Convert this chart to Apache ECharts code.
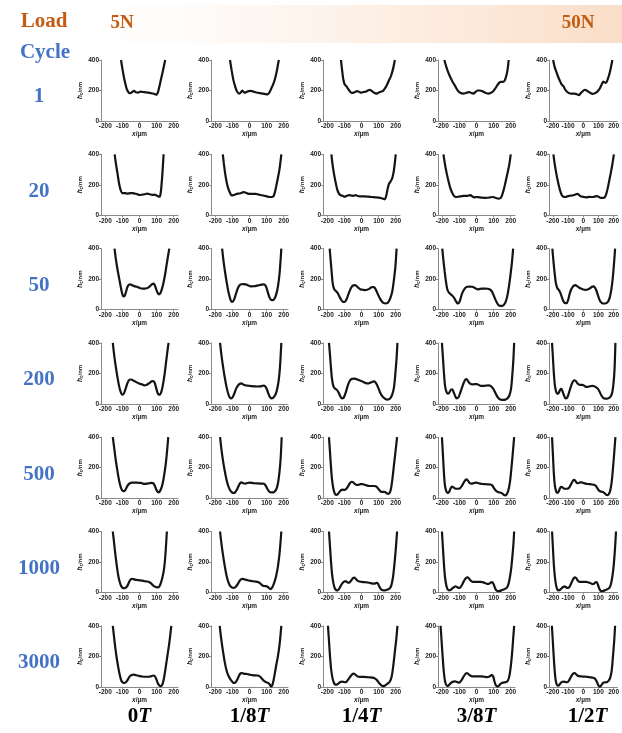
<!DOCTYPE html>
<html>
<head>
<meta charset="utf-8">
<script src="https://cdn.jsdelivr.net/npm/echarts@6/dist/echarts.min.js"></script>
<style>
html,body{margin:0;padding:0;background:#fff}
#chart{width:622px;height:733px}
</style>
</head>
<body>
<div id="chart"></div>
<script>
// Row / column headings
const cycleLabels = ['1', '20', '50', '200', '500', '1000', '3000'];
const phaseLabels = ['0', '1/8', '1/4', '3/8', '1/2'];
const loadLabels = ['5N', '50N'];
const xTickValues = [-200, -100, 0, 100, 200];
const yTickValues = [0, 200, 400];

// Wear-scar depth profiles [x (µm), h_c (nm)], one list per phase (0T .. 1/2T)
const profilesCycle1 = [
  [[-108,400],[-98,330],[-88,270],[-76,215],[-67,193],[-57,182],[-45,188],[-33,197],[-20,188],[-8,186],[5,192],[20,190],[35,188],[50,186],[65,183],[80,180],[92,175],[100,172],[108,190],[116,225],[125,270],[135,320],[150,400]],
  [[-114,400],[-104,330],[-94,268],[-82,220],[-72,192],[-60,180],[-50,188],[-43,200],[-35,192],[-28,185],[-18,190],[-5,196],[8,198],[25,192],[40,187],[60,183],[80,180],[95,176],[106,175],[118,190],[127,212],[140,245],[150,280],[160,330],[168,380],[172,400]],
  [[-120,400],[-112,320],[-106,270],[-98,240],[-88,228],[-78,210],[-66,192],[-55,184],[-45,186],[-35,192],[-24,196],[-12,190],[-2,186],[12,190],[27,194],[40,202],[48,205],[58,198],[70,188],[82,181],[90,180],[100,186],[112,192],[126,198],[138,215],[150,240],[162,270],[174,300],[186,350],[195,400]],
  [[-188,400],[-175,350],[-163,312],[-150,280],[-140,258],[-128,235],[-118,215],[-106,195],[-92,183],[-78,180],[-65,182],[-52,188],[-42,189],[-30,184],[-18,180],[-6,190],[8,200],[20,200],[32,196],[45,188],[58,182],[70,180],[82,183],[95,192],[108,210],[120,232],[132,250],[142,257],[155,257],[165,265],[175,300],[182,340],[188,400]],
  [[-198,400],[-188,355],[-176,320],[-165,290],[-153,262],[-142,240],[-130,228],[-118,205],[-105,190],[-92,182],[-78,180],[-62,180],[-48,178],[-35,172],[-28,170],[-20,178],[-10,188],[2,200],[12,205],[22,200],[35,192],[48,184],[60,178],[72,180],[85,186],[98,198],[110,215],[122,240],[132,258],[142,252],[150,250],[160,270],[170,300],[180,340],[192,400]]
];
const profilesCycle20 = [
  [[-145,400],[-138,340],[-128,270],[-118,200],[-108,158],[-98,145],[-85,146],[-70,142],[-55,145],[-40,146],[-28,142],[-15,140],[0,133],[15,135],[30,138],[45,142],[60,138],[75,134],[90,135],[100,130],[110,124],[117,122],[123,140],[128,190],[133,260],[137,330],[141,400]],
  [[-156,400],[-150,340],[-143,280],[-134,220],[-124,175],[-114,148],[-104,130],[-94,132],[-80,138],[-66,142],[-52,145],[-40,150],[-32,152],[-22,148],[-10,142],[5,140],[20,140],[35,140],[50,137],[65,133],[80,130],[95,126],[108,122],[118,120],[130,120],[140,125],[148,150],[156,190],[165,240],[175,300],[186,400]],
  [[-176,400],[-170,340],[-162,280],[-152,220],[-142,170],[-132,142],[-122,132],[-110,128],[-98,122],[-86,128],[-72,132],[-60,130],[-48,128],[-36,132],[-24,128],[-10,124],[5,124],[20,124],[40,122],[60,120],[80,118],[100,116],[118,112],[128,108],[136,105],[145,130],[152,170],[160,205],[170,222],[180,245],[190,300],[200,400]],
  [[-193,400],[-185,340],[-175,280],[-163,220],[-152,175],[-142,148],[-132,128],[-120,120],[-105,122],[-90,125],[-75,128],[-60,128],[-45,130],[-35,132],[-25,124],[-12,118],[0,120],[15,118],[30,116],[50,114],[65,115],[80,118],[95,120],[105,117],[118,112],[130,110],[142,114],[152,140],[162,180],[172,230],[182,280],[192,335],[200,400]],
  [[-196,400],[-188,340],[-178,280],[-166,220],[-154,170],[-142,135],[-130,122],[-116,120],[-100,126],[-86,128],[-72,130],[-60,133],[-48,138],[-38,140],[-28,134],[-16,124],[-4,122],[8,120],[22,118],[38,121],[52,120],[66,120],[80,124],[92,126],[104,120],[116,114],[130,114],[142,118],[152,140],[162,180],[172,230],[182,280],[192,335],[202,400]]
];
const profilesCycle50 = [
  [[-146,400],[-138,330],[-128,260],[-118,200],[-108,140],[-100,100],[-93,86],[-86,92],[-78,120],[-70,150],[-62,163],[-55,166],[-46,162],[-36,156],[-26,152],[-15,150],[-5,145],[5,140],[18,138],[30,138],[42,140],[55,148],[65,158],[75,168],[82,170],[90,158],[98,132],[106,110],[113,100],[120,104],[128,125],[138,165],[148,220],[158,290],[168,360],[174,400]],
  [[-160,400],[-152,320],[-142,240],[-132,170],[-122,110],[-112,68],[-104,50],[-96,54],[-88,72],[-78,108],[-68,140],[-58,160],[-48,166],[-35,167],[-22,165],[-10,160],[0,155],[12,152],[25,153],[40,156],[55,160],[70,164],[82,166],[92,160],[100,140],[108,110],[116,82],[124,66],[132,62],[140,64],[148,76],[156,100],[166,150],[176,240],[186,400]],
  [[-186,400],[-180,320],[-174,240],[-168,170],[-160,135],[-150,122],[-140,110],[-130,88],[-120,66],[-110,52],[-100,50],[-90,62],[-80,90],[-70,120],[-60,145],[-50,158],[-40,160],[-30,155],[-18,142],[-5,132],[8,130],[20,128],[32,130],[45,136],[58,146],[70,148],[78,142],[88,120],[98,95],[108,72],[118,55],[128,44],[140,40],[150,42],[160,55],[170,80],[180,120],[190,200],[198,280],[205,400]],
  [[-200,400],[-194,330],[-186,250],[-178,180],[-170,130],[-160,110],[-150,100],[-140,90],[-130,75],[-120,55],[-110,40],[-102,45],[-95,65],[-86,100],[-76,125],[-66,142],[-54,150],[-40,151],[-26,150],[-14,145],[-4,138],[8,132],[20,136],[35,138],[50,138],[65,137],[78,132],[88,122],[98,100],[108,72],[118,48],[128,30],[140,24],[152,25],[162,34],[172,55],[182,100],[192,170],[200,240],[208,320],[214,400]],
  [[-203,400],[-196,320],[-188,240],[-180,175],[-170,140],[-160,128],[-150,110],[-140,80],[-130,55],[-120,42],[-110,42],[-100,60],[-90,100],[-80,130],[-70,148],[-60,158],[-50,160],[-40,154],[-28,145],[-15,138],[0,132],[15,130],[30,132],[45,140],[58,150],[68,152],[76,146],[85,130],[95,100],[105,70],[115,50],[125,42],[135,40],[145,40],[155,44],[165,55],[175,80],[185,130],[195,210],[205,330],[210,400]]
];
const profilesCycle200 = [
  [[-156,400],[-148,320],[-138,240],[-128,170],[-118,110],[-108,72],[-99,60],[-92,66],[-84,90],[-74,125],[-64,152],[-54,160],[-44,158],[-34,152],[-22,145],[-10,138],[2,132],[15,128],[28,122],[40,124],[52,132],[62,140],[72,148],[80,150],[88,140],[96,110],[104,78],[112,60],[120,62],[128,80],[136,120],[146,190],[156,280],[166,370],[170,400]],
  [[-172,400],[-164,320],[-154,240],[-144,170],[-134,110],[-124,65],[-114,40],[-106,36],[-98,45],[-88,70],[-78,100],[-66,122],[-56,132],[-48,135],[-38,128],[-26,122],[-12,120],[0,118],[15,116],[30,115],[45,114],[60,115],[75,118],[85,120],[95,110],[104,88],[112,62],[120,44],[128,36],[136,38],[144,48],[152,62],[160,90],[170,150],[178,240],[186,400]],
  [[-190,400],[-184,320],[-178,230],[-172,160],[-164,115],[-154,100],[-144,92],[-134,75],[-124,50],[-114,36],[-106,38],[-98,56],[-88,90],[-78,128],[-68,152],[-58,163],[-46,166],[-34,164],[-20,158],[-6,152],[8,146],[22,138],[36,134],[50,138],[62,144],[72,148],[80,144],[90,125],[100,100],[110,72],[120,52],[130,40],[140,32],[150,28],[160,30],[170,40],[180,62],[190,110],[198,200],[205,300],[210,400]],
  [[-202,400],[-196,300],[-190,200],[-184,120],[-176,80],[-168,68],[-160,72],[-150,92],[-142,96],[-134,78],[-124,50],[-116,36],[-106,42],[-96,70],[-84,110],[-72,145],[-62,162],[-54,158],[-44,140],[-34,130],[-22,128],[-10,130],[2,130],[14,124],[26,118],[40,118],[55,120],[70,122],[82,118],[94,105],[106,82],[118,55],[130,35],[142,28],[156,26],[168,28],[180,35],[192,55],[202,100],[210,200],[216,300],[220,400]],
  [[-205,400],[-199,300],[-193,200],[-186,120],[-178,80],[-170,66],[-162,70],[-152,92],[-144,98],[-136,82],[-126,55],[-116,36],[-106,40],[-96,65],[-84,105],[-72,138],[-60,155],[-50,152],[-40,138],[-30,128],[-18,125],[-6,125],[6,120],[18,112],[30,112],[45,116],[60,118],[72,116],[84,110],[96,100],[108,80],[120,55],[132,40],[144,35],[156,35],[168,38],[180,48],[190,70],[198,120],[206,220],[212,400]]
];
const profilesCycle500 = [
  [[-156,400],[-148,330],[-140,260],[-132,200],[-124,145],[-116,100],[-108,68],[-100,50],[-92,46],[-84,52],[-76,68],[-66,88],[-56,98],[-44,102],[-30,102],[-16,102],[-4,101],[8,100],[20,96],[32,94],[45,96],[58,98],[70,100],[80,98],[88,85],[96,62],[104,44],[110,38],[118,44],[126,62],[134,90],[144,150],[154,230],[162,320],[168,400]],
  [[-172,400],[-164,320],[-154,240],[-144,175],[-134,120],[-124,80],[-114,54],[-104,40],[-94,34],[-84,38],[-74,55],[-64,80],[-54,100],[-46,104],[-36,98],[-24,96],[-12,100],[0,102],[15,100],[30,98],[45,97],[60,96],[75,96],[85,95],[95,82],[105,60],[115,44],[125,38],[135,38],[145,42],[155,55],[165,90],[175,170],[182,260],[188,400]],
  [[-190,400],[-184,300],[-178,200],[-172,120],[-164,60],[-156,30],[-148,22],[-140,25],[-130,40],[-120,52],[-110,56],[-100,54],[-90,60],[-80,75],[-68,98],[-58,108],[-50,105],[-40,94],[-30,88],[-18,88],[-6,92],[6,92],[18,88],[30,84],[45,80],[60,80],[75,80],[88,76],[98,62],[108,48],[118,42],[128,42],[138,40],[148,32],[156,28],[164,34],[172,60],[180,120],[190,220],[200,320],[208,400]],
  [[-202,400],[-196,280],[-190,160],[-184,80],[-176,45],[-168,35],[-160,42],[-152,62],[-144,76],[-136,72],[-126,64],[-116,62],[-106,62],[-96,66],[-86,80],[-76,100],[-66,118],[-58,124],[-50,115],[-40,100],[-30,95],[-18,98],[-6,102],[6,100],[20,96],[35,93],[50,92],[65,91],[80,90],[92,84],[102,66],[112,50],[122,42],[132,38],[142,36],[152,30],[160,22],[168,18],[176,25],[186,50],[196,110],[206,220],[214,320],[220,400]],
  [[-205,400],[-199,280],[-193,160],[-186,80],[-178,45],[-170,35],[-162,42],[-154,62],[-146,75],[-138,72],[-128,64],[-118,62],[-108,62],[-98,64],[-88,76],[-78,96],[-68,114],[-60,120],[-52,114],[-42,100],[-32,98],[-22,104],[-10,104],[2,100],[15,96],[30,93],[45,92],[60,90],[72,88],[84,80],[94,64],[104,50],[114,44],[124,42],[134,38],[144,30],[152,22],[160,20],[168,26],[178,50],[188,110],[198,220],[206,320],[212,400]]
];
const profilesCycle1000 = [
  [[-156,400],[-148,320],[-140,240],[-132,170],[-124,110],[-116,70],[-108,44],[-100,32],[-92,28],[-84,30],[-76,36],[-68,50],[-60,70],[-52,85],[-44,90],[-36,88],[-26,84],[-14,82],[0,80],[15,78],[30,74],[45,72],[58,68],[68,60],[76,50],[84,42],[92,38],[100,34],[108,33],[116,40],[124,60],[132,90],[140,130],[148,200],[154,290],[160,400]],
  [[-172,400],[-164,320],[-154,240],[-144,170],[-134,110],[-124,70],[-114,45],[-104,34],[-94,30],[-84,34],[-74,46],[-64,64],[-54,82],[-44,90],[-34,88],[-22,84],[-10,80],[4,77],[18,74],[32,72],[46,70],[58,64],[68,54],[78,45],[90,42],[102,40],[110,34],[118,25],[124,22],[130,28],[138,45],[146,70],[156,110],[166,170],[176,260],[186,400]],
  [[-190,400],[-184,300],[-178,200],[-172,120],[-164,60],[-156,28],[-148,16],[-140,14],[-132,22],[-124,38],[-116,54],[-108,66],[-100,72],[-92,74],[-84,68],[-76,64],[-68,68],[-58,82],[-50,94],[-42,98],[-34,90],[-24,78],[-12,72],[0,70],[15,68],[30,66],[45,64],[60,60],[72,58],[82,60],[90,64],[96,58],[104,40],[112,24],[120,16],[130,14],[142,16],[154,20],[164,26],[174,45],[184,100],[192,180],[200,280],[208,400]],
  [[-202,400],[-196,290],[-190,180],[-184,100],[-176,45],[-168,20],[-160,14],[-150,18],[-140,28],[-130,36],[-122,40],[-114,36],[-106,30],[-98,30],[-90,40],[-80,60],[-70,82],[-60,96],[-52,100],[-44,92],[-34,78],[-22,70],[-10,70],[5,70],[20,70],[35,68],[50,62],[62,56],[74,58],[84,66],[92,68],[100,54],[108,30],[116,14],[124,9],[134,10],[146,14],[158,20],[170,25],[182,40],[192,80],[202,150],[210,240],[216,320],[220,400]],
  [[-205,400],[-199,290],[-193,180],[-186,100],[-178,45],[-170,20],[-162,14],[-152,18],[-142,28],[-132,36],[-122,40],[-114,36],[-106,30],[-98,30],[-88,40],[-78,62],[-68,84],[-60,96],[-52,100],[-44,92],[-36,78],[-24,70],[-10,70],[5,70],[20,70],[35,66],[50,60],[62,55],[72,58],[80,66],[88,68],[96,54],[104,30],[112,14],[120,9],[130,10],[142,14],[154,20],[166,25],[178,40],[188,80],[198,150],[206,240],[212,330],[216,400]]
];
const profilesCycle3000 = [
  [[-156,400],[-146,300],[-136,210],[-126,140],[-116,80],[-106,40],[-96,27],[-88,25],[-80,30],[-72,40],[-64,56],[-56,70],[-46,78],[-36,80],[-26,78],[-14,74],[0,70],[12,68],[26,66],[40,66],[54,66],[66,68],[76,72],[84,74],[92,66],[100,45],[108,22],[116,8],[124,4],[132,12],[140,40],[148,90],[156,150],[164,210],[172,270],[180,340],[186,400]],
  [[-174,400],[-166,320],[-156,240],[-146,170],[-136,115],[-126,80],[-116,58],[-106,40],[-96,28],[-88,26],[-80,32],[-72,46],[-64,66],[-56,84],[-48,90],[-38,88],[-26,85],[-14,84],[0,80],[15,76],[30,75],[45,74],[58,70],[68,60],[78,46],[88,36],[98,30],[108,26],[116,18],[122,8],[127,2],[132,8],[138,30],[146,75],[156,140],[166,200],[176,280],[186,400]],
  [[-196,400],[-190,300],[-184,200],[-178,120],[-170,60],[-162,28],[-154,15],[-146,14],[-136,20],[-126,30],[-116,34],[-106,32],[-96,30],[-86,36],[-76,50],[-66,66],[-56,80],[-46,86],[-38,82],[-28,72],[-16,66],[-2,65],[14,65],[30,64],[46,62],[62,60],[76,56],[88,46],[98,32],[108,18],[118,8],[126,5],[134,6],[144,14],[154,22],[164,32],[172,50],[180,90],[188,160],[196,240],[204,320],[210,400]],
  [[-210,400],[-204,300],[-198,200],[-192,110],[-186,50],[-180,20],[-172,6],[-164,8],[-154,20],[-144,30],[-134,34],[-124,36],[-116,32],[-106,28],[-98,30],[-88,42],[-78,62],[-68,80],[-58,90],[-50,86],[-40,76],[-30,70],[-16,68],[0,68],[15,68],[30,68],[45,66],[60,64],[72,66],[82,72],[90,78],[98,66],[104,40],[110,18],[116,6],[122,2],[128,4],[136,14],[146,24],[158,28],[170,30],[182,38],[192,70],[200,130],[208,220],[214,310],[220,400]],
  [[-206,400],[-200,300],[-194,200],[-188,110],[-182,50],[-176,20],[-168,8],[-160,10],[-150,22],[-140,32],[-130,34],[-120,32],[-112,30],[-104,30],[-94,40],[-84,58],[-74,76],[-64,88],[-56,90],[-48,84],[-38,74],[-26,70],[-12,68],[4,67],[20,66],[35,64],[50,62],[62,60],[74,56],[84,44],[92,28],[98,14],[104,4],[110,1],[118,8],[126,20],[136,28],[148,30],[158,32],[168,40],[178,60],[188,110],[196,200],[204,300],[210,400]]
];

const profileRows = [profilesCycle1, profilesCycle20, profilesCycle50, profilesCycle200,
                     profilesCycle500, profilesCycle1000, profilesCycle3000];

// Panel layout (pixels)
const colLeft = [101, 211, 323, 438, 549];
const rowTop0 = 60, rowStep = 94.3, panelW = 77, panelH = 61;

const serif = '"Times New Roman","Liberation Serif",serif';
const sans = 'Arial,"Liberation Sans",sans-serif';
const axisGrey = '#8a8a8a';
const tickFont = { fontSize: 6.5, fontWeight: 'bold', color: '#222', fontFamily: sans };

const grid = [], xAxis = [], yAxis = [], series = [];
profileRows.forEach((row, r) => {
  row.forEach((profile, c) => {
    const i = grid.length;
    grid.push({ left: colLeft[c], top: rowTop0 + r * rowStep, width: panelW, height: panelH });
    xAxis.push({
      type: 'value', gridIndex: i, min: -225, max: 225,
      axisLine: { show: true, onZero: false, lineStyle: { color: axisGrey, width: 1 } },
      axisTick: { show: true, length: 2, customValues: xTickValues, lineStyle: { color: axisGrey } },
      axisLabel: Object.assign({ customValues: xTickValues, margin: 2 }, tickFont),
      splitLine: { show: false },
      name: '{i|x}/µm', nameLocation: 'middle', nameGap: 10,
      nameTextStyle: {
        fontSize: 6.5, fontWeight: 'bold', color: '#222', fontFamily: sans,
        rich: { i: { fontSize: 6.5, fontWeight: 'bold', fontStyle: 'italic', color: '#222', fontFamily: sans } }
      }
    });
    yAxis.push({
      type: 'value', gridIndex: i, min: 0, max: 400, interval: 200,
      axisLine: { show: true, onZero: false, lineStyle: { color: axisGrey, width: 1 } },
      axisTick: { show: true, length: 2, lineStyle: { color: axisGrey } },
      axisLabel: Object.assign({ margin: 2 }, tickFont),
      splitLine: { show: false },
      name: '{i|h}{s|c}/nm', nameLocation: 'middle', nameGap: 13,
      nameTextStyle: {
        fontSize: 6, fontWeight: 'bold', color: '#222', fontFamily: sans,
        rich: {
          i: { fontSize: 6.5, fontWeight: 'bold', fontStyle: 'italic', color: '#222', fontFamily: sans },
          s: { fontSize: 4.5, fontWeight: 'bold', color: '#222', fontFamily: sans, padding: [3, 0, 0, 0] }
        }
      }
    });
    series.push({
      type: 'line', xAxisIndex: i, yAxisIndex: i, data: profile,
      showSymbol: false, smooth: 0.3, clip: true, silent: true,
      lineStyle: { color: '#141414', width: 2.2 }
    });
  });
});

// Headings, load gradient band and row / column labels
const graphic = [
  {
    type: 'rect', z: -10, shape: { x: 95, y: 5, width: 527, height: 38 },
    style: {
      fill: new echarts.graphic.LinearGradient(0, 0, 1, 0, [
        { offset: 0, color: 'rgba(251,226,206,0)' },
        { offset: 0.2, color: 'rgba(251,226,206,0.15)' },
        { offset: 1, color: 'rgba(250,222,200,1)' }
      ])
    }
  },
  { type: 'text', x: 44, y: 22, style: { text: 'Load', font: 'bold 21px ' + serif, fill: '#C55A11', align: 'center', verticalAlign: 'middle' } },
  { type: 'text', x: 45, y: 53, style: { text: 'Cycle', font: 'bold 21px ' + serif, fill: '#4472C4', align: 'center', verticalAlign: 'middle' } },
  { type: 'text', x: 122, y: 23, style: { text: loadLabels[0], font: 'bold 19px ' + serif, fill: '#C55A11', align: 'center', verticalAlign: 'middle' } },
  { type: 'text', x: 578, y: 23, style: { text: loadLabels[1], font: 'bold 19px ' + serif, fill: '#C55A11', align: 'center', verticalAlign: 'middle' } }
];
cycleLabels.forEach((lab, r) => {
  graphic.push({
    type: 'text', x: 39, y: rowTop0 + r * rowStep + 37,
    style: { text: lab, font: 'bold 21px ' + serif, fill: '#4472C4', align: 'center', verticalAlign: 'middle' }
  });
});
phaseLabels.forEach((lab, c) => {
  graphic.push({
    type: 'text', x: colLeft[c] + panelW / 2, y: 717,
    style: {
      text: '{n|' + lab + '}{t|T}', align: 'center', verticalAlign: 'middle',
      rich: {
        n: { font: 'bold 21px ' + serif, fill: '#000' },
        t: { font: 'italic bold 21px ' + serif, fill: '#000' }
      }
    }
  });
});

const chart = echarts.init(document.getElementById('chart'), null, { renderer: 'canvas' });
chart.setOption({
  animation: false,
  backgroundColor: '#fff',
  grid, xAxis, yAxis, series, graphic
});
</script>
</body>
</html>
